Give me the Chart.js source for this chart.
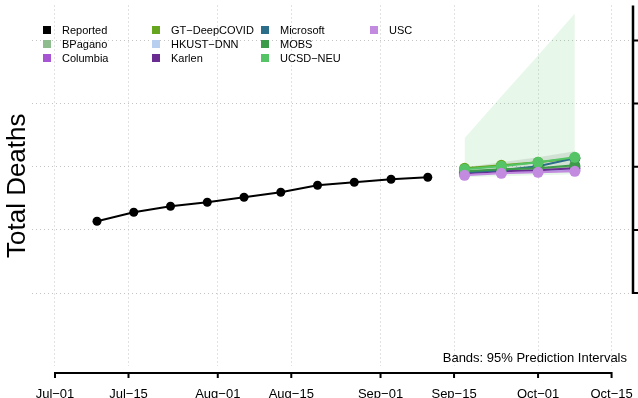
<!DOCTYPE html>
<html><head><meta charset="utf-8">
<script src="https://cdn.jsdelivr.net/npm/chart.js@4/dist/chart.umd.min.js"></script>
<style>html,body{margin:0;padding:0;background:#fff;}</style>
</head><body>
<canvas id="c" width="638" height="398"></canvas>
<script>
// ---- data (x = days after Jul-01) ----
const xTickDays = [0, 14, 31, 45, 62, 76, 92, 106];
const xTickLabels = ['Jul−01','Jul−15','Aug−01','Aug−15','Sep−01','Sep−15','Oct−01','Oct−15'];
const yTicks = [0, 2000, 4000, 6000, 8000];
const reportedDays = [8, 15, 22, 29, 36, 43, 50, 57, 64, 71];
const reportedDeaths = [2277, 2561, 2751, 2877, 3036, 3194, 3415, 3510, 3605, 3668];
const forecastDays = [78, 85, 92, 99];
const modelNames = ['BPagano','Columbia','GT−DeepCOVID','HKUST−DNN','Karlen','Microsoft','MOBS','UCSD−NEU','USC'];
const bpagano   = [3826, 3889, 3921, 3984];
const columbia  = [3763, 3826, 3858, 3889];
const gtDeep    = [3953, 4047, 4142, 4269];
const hkust     = [3794, 3858, 3889, 3921];
const karlen    = [3794, 3858, 3889, 3953];
const microsoft = [3826, 3889, 4016, 4269];
const mobs      = [3858, 3921, 3953, 4047];
const ucsdNeu   = [3921, 4016, 4142, 4300];
const usc       = [3731, 3794, 3826, 3858];
const ucsdLower = [3668, 3700, 3731, 3763];
const ucsdUpper = [4901, 6229, 7526, 8854];
const gtLower   = [3858, 3889, 3921, 3953];
const gtUpper   = [3984, 4142, 4300, 4490];

// ---- styles ----
const modelColors = ['#8fbc8f','#a855d4','#66a61e','#b8cff0','#6a2c91','#2c6e8a','#3d9a4a','#55c466','#c28be0'];
const modelSeries = [bpagano, columbia, gtDeep, hkust, karlen, microsoft, mobs, ucsdNeu, usc];
const modelOrder = [18, 17, 14, 16, 15, 13, 12, 11, 10];
const FONT = 'Liberation Sans, Arial, Helvetica, sans-serif';

const pts = (xs, ys) => xs.map((d, i) => ({x: d, y: ys[i]}));

const datasets = [];
function band(lower, upper, color) {
  datasets.push({isBand: true, data: pts(forecastDays, lower), borderWidth: 0, pointRadius: 0, fill: false, order: 100});
  datasets.push({isBand: true, data: pts(forecastDays, upper), borderWidth: 0, pointRadius: 0, fill: '-1', backgroundColor: color, order: 100});
}
band(ucsdLower, ucsdUpper, 'rgba(85,196,102,0.14)');
band(gtLower, gtUpper, 'rgba(140,140,140,0.22)');
datasets.push({label: 'Reported', data: pts(reportedDays, reportedDeaths), borderColor: '#000', backgroundColor: '#000',
  borderWidth: 2, pointRadius: 4.5, pointBorderWidth: 0, order: 0});
modelNames.forEach((n, i) => datasets.push({
  label: n, data: pts(forecastDays, modelSeries[i]), borderColor: modelColors[i], backgroundColor: modelColors[i],
  borderWidth: 2, pointRadius: 5.5, pointBorderWidth: 0, order: modelOrder[i]
}));

const legendCols = [47, 156, 265, 374];
const decor = {
  id: 'decor',
  afterDraw(chart) {
    const {ctx, chartArea: a, scales: {x, y}} = chart;
    ctx.save();
    ctx.strokeStyle = '#000';
    ctx.lineWidth = 2;
    // bottom axis
    const yb = a.bottom + 7;
    ctx.beginPath();
    ctx.moveTo(x.getPixelForValue(xTickDays[0]) - 1, yb);
    ctx.lineTo(x.getPixelForValue(xTickDays[xTickDays.length - 1]) + 1, yb);
    xTickDays.forEach(v => { const p = x.getPixelForValue(v); ctx.moveTo(p, yb); ctx.lineTo(p, yb + 5); });
    ctx.stroke();
    // right axis
    const xr = a.right + 2;
    ctx.lineWidth = 2.5;
    ctx.beginPath();
    ctx.moveTo(xr, a.top);
    ctx.lineTo(xr, y.getPixelForValue(yTicks[0]) + 1);
    ctx.stroke();
    ctx.lineWidth = 2;
    ctx.beginPath();
    yTicks.forEach(v => { const p = y.getPixelForValue(v); ctx.moveTo(xr, p); ctx.lineTo(xr + 6, p); });
    ctx.stroke();
    // note
    ctx.fillStyle = '#000';
    ctx.font = '13px ' + FONT;
    ctx.textAlign = 'right';
    ctx.textBaseline = 'alphabetic';
    ctx.fillText('Bands: 95% Prediction Intervals', a.right - 4, a.bottom - 4);
    // legend (column-major, 3 rows)
    ctx.font = '11px ' + FONT;
    ctx.textAlign = 'left';
    ctx.textBaseline = 'middle';
    const items = chart.data.datasets.filter(d => !d.isBand);
    items.forEach((d, i) => {
      const col = Math.floor(i / 3), row = i % 3;
      const cx = legendCols[col], cy = 30 + row * 14;
      ctx.fillStyle = d.backgroundColor;
      ctx.fillRect(cx - 4, cy - 4, 8, 8);
      ctx.fillStyle = '#000';
      ctx.fillText(d.label, cx + 15, cy + 0.5);
    });
    ctx.restore();
  }
};

const yMin = -2308, yMax = 9107;
new Chart(document.getElementById('c'), {
  type: 'line',
  data: {datasets},
  plugins: [decor],
  options: {
    responsive: false,
    animation: false,
    devicePixelRatio: 1,
    layout: {padding: {top: 5, left: 0, right: 0, bottom: 0}},
    plugins: {legend: {display: false}, tooltip: {enabled: false}},
    elements: {line: {tension: 0}},
    scales: {
      x: {
        type: 'linear', min: -4.38, max: 109.7,
        afterBuildTicks: s => { s.ticks = xTickDays.map(v => ({value: v})); },
        afterFit: s => { s.height = 32; s.paddingLeft = 0; s.paddingRight = 0; },
        ticks: {callback: v => xTickLabels[xTickDays.indexOf(v)], font: {family: FONT, size: 13}, color: '#000',
          padding: 21, maxRotation: 0, autoSkip: false},
        grid: {color: '#c4c4c4', lineWidth: 1, drawTicks: false, borderDash: [1, 3]},
        border: {display: false, dash: [1, 3]}
      },
      y: {
        type: 'linear', position: 'right', min: yMin, max: yMax,
        afterBuildTicks: s => { s.ticks = yTicks.map(v => ({value: v})); },
        afterFit: s => { s.width = 7; s.paddingTop = 0; s.paddingBottom = 0; },
        ticks: {display: false},
        grid: {color: '#c4c4c4', lineWidth: 1, drawTicks: false, borderDash: [1, 3]},
        border: {display: false, dash: [1, 3]}
      },
      yT: {
        type: 'linear', position: 'left', min: yMin, max: yMax, display: true,
        afterFit: s => { s.width = 32; s.paddingTop = 0; s.paddingBottom = 0; },
        ticks: {display: false},
        grid: {display: false, drawTicks: false},
        border: {display: false},
        title: {display: true, text: 'Total Deaths', color: '#000', font: {family: FONT, size: 26}, padding: {top: 2, bottom: 0}}
      }
    }
  }
});
</script>
</body></html>
